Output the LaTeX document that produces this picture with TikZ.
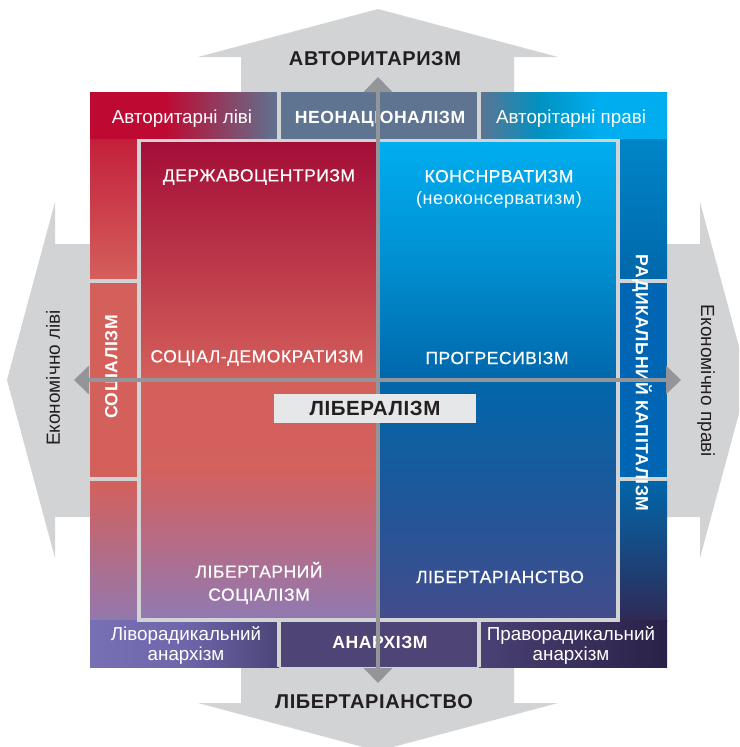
\documentclass[tikz,border=0pt]{standalone}
\usepackage{fontspec}
\setmainfont{Liberation Sans}
\newfontfamily\capsfont[LetterSpace=3]{Liberation Sans}
\newfontfamily\medfont[LetterSpace=3,FakeBold=0.6]{Liberation Sans}
\usetikzlibrary{arrows.meta}

\definecolor{arrowgray}{HTML}{D1D3D4}
\definecolor{gapgray}{HTML}{D1D3D4}
\definecolor{axisgray}{HTML}{939598}
\definecolor{inkdark}{HTML}{231F20}
\definecolor{boxgray}{HTML}{E6E7E8}
\definecolor{redtop}{HTML}{BE0A32}
\definecolor{crimson}{HTML}{A30D37}
\definecolor{salmon}{HTML}{D4605B}
\definecolor{rosemid}{HTML}{B56C88}
\definecolor{lilac}{HTML}{8F7AB2}
\definecolor{slate}{HTML}{5E7491}
\definecolor{teal}{HTML}{0092C2}
\definecolor{skycyan}{HTML}{00AEEF}
\definecolor{midcyan}{HTML}{0090D2}
\definecolor{deepblue}{HTML}{0067AA}
\definecolor{capblue}{HTML}{0066B3}
\definecolor{navymid}{HTML}{1F5799}
\definecolor{indigo}{HTML}{434C8C}
\definecolor{violetl}{HTML}{7870B5}
\definecolor{violetm}{HTML}{6E66AA}
\definecolor{violetd}{HTML}{4B4579}
\definecolor{anarchmid}{HTML}{4E4476}
\definecolor{nightl}{HTML}{4A4175}
\definecolor{nightd}{HTML}{2A2148}

\begin{document}
\begin{tikzpicture}[x=1pt, y=-1pt,
    bigarrow/.style={fill=arrowgray},
    gapline/.style={draw=gapgray, line width=3.5pt},
    axis/.style={draw=axisgray, line width=4.5pt,
      {Triangle[width=28pt,length=15pt]}-{Triangle[width=28pt,length=15pt]}},
    axistitle/.style={text=inkdark, font=\capsfont\bfseries\fontsize{20}{22}\selectfont},
    sidetitle/.style={text=inkdark, font=\fontsize{19}{21}\selectfont},
    quadlabel/.style={text=white, font=\medfont\fontsize{17.5}{23}\selectfont, align=center},
    rimlabel/.style={text=white, font=\fontsize{18.8}{20}\selectfont, align=center},
    rimtitle/.style={text=white, font=\capsfont\bfseries\fontsize{17.6}{20}\selectfont}]
    \clip (0,0) rectangle (739,747);

    % Big arrows
    \fill[bigarrow] (241,100) -- (241,57) -- (198,57) -- (378,9) -- (558,57) -- (514,57) -- (514,100) -- cycle;
    \fill[bigarrow] (241,660) -- (241,703) -- (198,703) -- (378,751) -- (558,703) -- (514,703) -- (514,660) -- cycle;
    \fill[bigarrow] (100,244) -- (55,244) -- (55,202) -- (7,380) -- (55,558) -- (55,517) -- (100,517) -- cycle;
    \fill[bigarrow] (660,244) -- (700,244) -- (700,202) -- (748,380) -- (700,558) -- (700,517) -- (660,517) -- cycle;

    % Rim
    \shade[top color=redtop, bottom color=salmon] (90,92) rectangle (139,281);
    \fill[salmon] (90,281) rectangle (139,479);
    \shade[top color=salmon, bottom color=lilac!90!rosemid] (90,479) rectangle (139,621);
    \shade[top color=midcyan, bottom color=deepblue] (618,92) rectangle (667,281);
    \fill[capblue] (618,281) rectangle (667,479);
    \shade[top color=deepblue, bottom color=nightd!80!indigo] (618,479) rectangle (667,621);
    \fill[redtop] (90,92) rectangle (165,139);
    \shade[left color=redtop, right color=slate] (165,92) rectangle (279,139);
    \fill[slate] (279,92) rectangle (479,139);
    \shade[left color=slate, right color=skycyan, middle color=teal] (479,92) rectangle (600,139);
    \fill[skycyan] (600,92) rectangle (667,139);
    \shade[left color=violetl, right color=violetd, middle color=violetm] (90,620) rectangle (279,667);
    \fill[anarchmid] (279,620) rectangle (479,667);
    \shade[left color=nightl, right color=nightd] (479,620) rectangle (667,667);

    % Quadrants
    \shade[top color=crimson, bottom color=salmon] (139,140) rectangle (378,380);
    \shade[top color=salmon, bottom color=salmon!95!rosemid] (139,380) rectangle (378,470);
    \shade[top color=salmon!95!rosemid, bottom color=lilac, middle color=rosemid] (139,470) rectangle (378,620);
    \shade[top color=skycyan, bottom color=deepblue, middle color=midcyan] (378,140) rectangle (618,380);
    \shade[top color=deepblue, bottom color=indigo, middle color=navymid] (378,380) rectangle (618,620);

    % Gaps
    \draw[gapline] (139,140.5) rectangle (618,620);
    \draw[gapline] (279,92) -- (279,139) (479,92) -- (479,139);
    \draw[gapline] (279,620) -- (279,667) (479,620) -- (479,667);
    \draw[gapline] (90,281) -- (139,281) (90,479) -- (139,479);
    \draw[gapline] (618,281) -- (667,281) (618,479) -- (667,479);

    % Nodes
    \node[axistitle] (auth) at (375,59) {АВТОРИТАРИЗМ};
    \node[axistitle] (libt) at (374,702) {ЛІБЕРТАРІАНСТВО};
    \node[sidetitle, rotate=90] (econl) at (53,378) {Економічно ліві};
    \node[sidetitle, rotate=-90] (econr) at (706,381) {Економічно праві};

    \node[rimlabel] (authl) at (182,119) {Авторитарні ліві};
    \node[rimtitle] (neonat) at (380,119) {НЕОНАЦІОНАЛІЗМ};
    \node[rimlabel] (authr) at (571,119) {Авторітарні праві};
    \node[rimtitle, rotate=90] (social) at (113,367) {СОЦІАЛІЗМ};
    \node[rimtitle, rotate=-90] (radcap) at (642,383) {РАДИКАЛЬНИЙ КАПІТАЛІЗМ};
    \node[rimlabel] (anarl) at (186,645) {Ліворадикальний\\анархізм};
    \node[rimtitle] (anarch) at (380,642) {АНАРХІЗМ};
    \node[rimlabel] (anarr) at (571,645) {Праворадикальний\\анархізм};

    \node[quadlabel] (statec) at (259,177) {ДЕРЖАВОЦЕНТРИЗМ};
    \node[quadlabel] (conserv) at (499,189) {КОНСНРВАТИЗМ\\[-1pt]{\capsfont\fontsize{18}{20}\selectfont(неоконсерватизм)}};
    \node[quadlabel] (socdem) at (257,358) {СОЦІАЛ-ДЕМОКРАТИЗМ};
    \node[quadlabel] (progr) at (497,358) {ПРОГРЕСИВІЗМ};
    \node[quadlabel] (libsoc) at (259,583) {ЛІБЕРТАРНИЙ\\СОЦІАЛІЗМ};
    \node[quadlabel] (libq) at (500,577) {ЛІБЕРТАРІАНСТВО};

    % Axes
    \coordinate (north) at (378,77);
    \coordinate (south) at (378,683);
    \coordinate (west) at (74,380);
    \coordinate (east) at (681,380);
    \draw[axis] (south) -- (north);
    \draw[axis] (west) -- (east);

    \node[fill=boxgray, minimum width=202pt, minimum height=29pt, inner sep=0pt,
      text=inkdark, font=\capsfont\bfseries\fontsize{20.5}{22}\selectfont] (liber) at (375,408.5) {ЛІБЕРАЛІЗМ};
\end{tikzpicture}
\end{document}
